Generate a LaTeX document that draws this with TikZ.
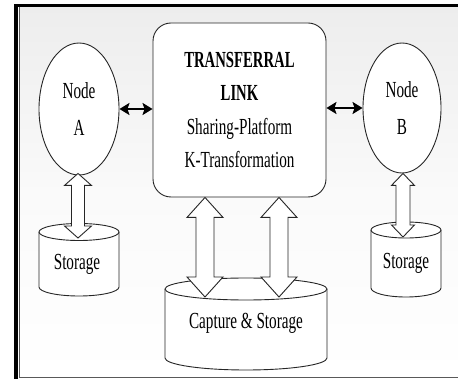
\documentclass[tikz,border=0pt]{standalone}
\usepackage{fontspec}
\setmainfont{Liberation Serif}
\usepackage{graphicx}
\usetikzlibrary{shapes.geometric,arrows.meta,calc}

% horizontally condensed text, regular and bold
\newcommand\nar[1]{\scalebox{0.66}[1]{#1}}
\newcommand\narb[1]{\scalebox{0.64}[1]{\textbf{#1}}}

% cylinder: centre x, x radius, top y, bottom y, top y radius, bottom y radius
\newcommand\drum[6]{%
  \draw[outline,fill=white] (#1-#2,#3) -- (#1-#2,#4)
    arc[start angle=180,end angle=360,x radius=#2pt,y radius=#6pt] -- (#1+#2,#3)
    arc[start angle=0,end angle=180,x radius=#2pt,y radius=#5pt] -- cycle;
  \draw[outline] (#1-#2,#3) arc[start angle=180,end angle=360,x radius=#2pt,y radius=#5pt];}

% hollow two-headed block arrow: from, to, shaft half width, head half width, head length
\newcommand\fatarrow[5]{%
  \draw[outline,fill=white,line join=miter] let \p1=(#1), \p2=(#2) in
   (\x1,\y1) -- (\x1+#4,\y1-#5) -- (\x1+#3,\y1-#5) -- (\x1+#3,\y2+#5)
   -- (\x1+#4,\y2+#5) -- (\x1,\y2) -- (\x1-#4,\y2+#5) -- (\x1-#3,\y2+#5)
   -- (\x1-#3,\y1-#5) -- (\x1-#4,\y1-#5) -- cycle;}

\tikzset{
  outline/.style={draw=black!85,line width=0.9pt},
  txt/.style={font=\fontsize{23}{33}\selectfont,align=center,inner sep=0pt},
  peer/.style={ellipse,outline,fill=white,inner sep=0pt,
    minimum width=80pt,minimum height=132pt,
    font=\fontsize{23}{37}\selectfont,align=center},
  linkbox/.style={rectangle,rounded corners=18pt,outline,fill=white,inner sep=0pt,
    minimum width=173pt,minimum height=174pt,
    font=\fontsize{23}{33.3}\selectfont,align=center},
  bothway/.style={line width=2pt,black,
    {Stealth[length=10pt,width=12pt,inset=2pt]}-{Stealth[length=10pt,width=12pt,inset=2pt]}}
}

\begin{document}
\begin{tikzpicture}[x=1pt,y=-1pt]
\useasboundingbox (0,0) rectangle (458,379);
\fill[white] (0,0) rectangle (458,379);

% panel background and frame
\shade[top color=black!7,bottom color=white,middle color=black!2] (20,7) rectangle (458,377.5);
\fill[black] (14,4) rectangle (458,7.5);
\fill[black] (14,4) rectangle (18,379);
\draw[black!65,line width=1.1pt] (19.8,7.5) -- (19.8,377.5) -- (458,377.5);

% peers and the link
\node[peer] (nA) at (79,109) {\nar{Node}\\\nar{A}};
\node[peer,minimum width=78pt,minimum height=130pt] (nB) at (402,108) {\nar{Node}\\\nar{B}};
\node[linkbox] (link) at (239.5,110)
  {\narb{TRANSFERRAL}\\\narb{LINK}\\\nar{Sharing-Platform}\\\nar{K-Transformation}};

% storages
\drum{79}{40}{232}{287}{8.5}{9}
\node[txt] (sA) at (77,264) {\nar{Storage}};
\drum{406}{35}{230}{288}{8}{9}
\node[txt] (sB) at (406,263) {\nar{Storage}};
\drum{246}{81}{289}{358}{11}{12}
\node[txt] (cap) at (246,323) {\nar{Capture \& Storage}};

% connectors between peers and link
\draw[bothway] (nA.east) -- (nA.east -| link.west);
\draw[bothway] (nB.west) -- (nB.west -| link.east);

% block arrows
\coordinate (aTop) at ($(nA.south)+(-1,-2)$);
\coordinate (aBot) at (78,238);
\fatarrow{aTop}{aBot}{6.5pt}{13.5pt}{12pt}
\coordinate (bTop) at ($(nB.south)+(1,-0)$);
\coordinate (bBot) at (403,237);
\fatarrow{bTop}{bBot}{7pt}{11.5pt}{12pt}
\coordinate (lTop) at (link.south -| 205,0);
\coordinate (lBot) at (205,297);
\fatarrow{lTop}{lBot}{9pt}{18pt}{20pt}
\coordinate (rTop) at (link.south -| 279,0);
\coordinate (rBot) at (279,297);
\fatarrow{rTop}{rBot}{9pt}{18pt}{20pt}
\end{tikzpicture}
\end{document}
